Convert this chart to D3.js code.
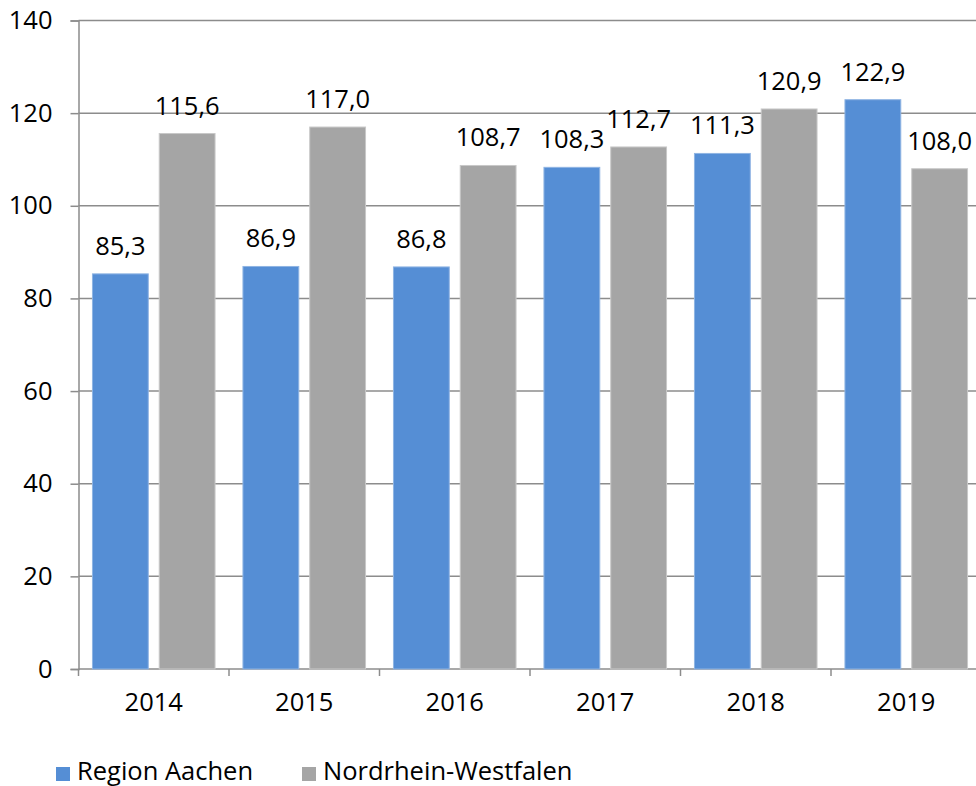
<!DOCTYPE html>
<html>
<head>
<meta charset="utf-8">
<script src="https://cdn.jsdelivr.net/npm/d3@7"></script>
<style>
  html, body { margin: 0; padding: 0; background: #fff; }
  svg { display: block; font-family: "Open Sans", "Noto Sans", sans-serif; }
</style>
</head>
<body>
<svg id="chart" width="976" height="786"></svg>
<script>
const years = ["2014", "2015", "2016", "2017", "2018", "2019"];
const seriesNames = ["Region Aachen", "Nordrhein-Westfalen"];
const aachen = [85.3, 86.9, 86.8, 108.3, 111.3, 122.9];
const nrw = [115.6, 117.0, 108.7, 112.7, 120.9, 108.0];
const yTicks = [0, 20, 40, 60, 80, 100, 120, 140];
const colors = ["#558ed5", "#a5a5a5"];

const fontSize = 25.5;
const svg = d3.select("#chart");
const plotLeft = 78.5, plotTop = 20.5, plotBottom = 669;
const catWidth = 150.5;
const plotRight = plotLeft + catWidth * years.length;

const x = d3.scaleBand().domain(years).range([plotLeft, plotRight]).paddingInner(0).paddingOuter(0);
const xs = d3.scaleBand().domain(seriesNames).range([0, catWidth]).paddingInner(0.164).paddingOuter(0.209);
const y = d3.scaleLinear().domain([0, 140]).range([plotBottom, plotTop]);

const fmt = v => d3.format(".1f")(v).replace(".", ",");

// horizontal grid lines
svg.append("g")
  .selectAll("line")
  .data(yTicks.filter(t => t > 0))
  .join("line")
  .attr("x1", plotLeft).attr("x2", 976)
  .attr("y1", d => y(d)).attr("y2", d => y(d))
  .attr("stroke", "#8c8c8c").attr("stroke-width", 1.5);

// y axis
const yAxis = d3.axisLeft(y).tickValues(yTicks).tickSize(8).tickPadding(18).tickFormat(d3.format("d"));
const yg = svg.append("g").attr("transform", `translate(${plotLeft},0)`).call(yAxis);
yg.select(".domain").attr("stroke", "#8c8c8c").attr("stroke-width", 1.5);
yg.selectAll(".tick line").attr("stroke", "#8c8c8c").attr("stroke-width", 1.5);
yg.selectAll(".tick text").attr("font-size", fontSize).attr("fill", "#000")
  .attr("font-family", "'Open Sans', 'Noto Sans', sans-serif");

// x axis
const xBoundaries = d3.range(years.length + 1).map(i => plotLeft + i * catWidth);
svg.append("line")
  .attr("x1", plotLeft).attr("x2", 976).attr("y1", plotBottom).attr("y2", plotBottom)
  .attr("stroke", "#8c8c8c").attr("stroke-width", 1.5);
svg.append("g").selectAll("line")
  .data(xBoundaries)
  .join("line")
  .attr("x1", d => d).attr("x2", d => d)
  .attr("y1", plotBottom).attr("y2", plotBottom + 7)
  .attr("stroke", "#8c8c8c").attr("stroke-width", 1.5);
svg.append("g").selectAll("text")
  .data(years)
  .join("text")
  .attr("x", d => x(d) + catWidth / 2)
  .attr("y", 711)
  .attr("text-anchor", "middle")
  .attr("font-size", fontSize)
  .attr("fill", "#000")
  .text(d => d);

// bars
const rows = years.map((yr, i) => ({ year: yr, values: [aachen[i], nrw[i]] }));
const groups = svg.append("g").selectAll("g")
  .data(rows)
  .join("g")
  .attr("transform", d => `translate(${x(d.year)},0)`);

groups.selectAll("rect")
  .data(d => d.values.map((v, j) => ({ name: seriesNames[j], value: v, j })))
  .join("rect")
  .attr("x", d => xs(d.name))
  .attr("width", xs.bandwidth())
  .attr("y", d => y(d.value))
  .attr("height", d => y(0) - y(d.value))
  .attr("fill", d => colors[d.j])
  .attr("stroke", d => d.j === 0 ? "#8fb4e3" : "#c8c8c8")
  .attr("stroke-width", 1);

groups.selectAll("text")
  .data(d => d.values.map((v, j) => ({ name: seriesNames[j], value: v, j })))
  .join("text")
  .attr("x", d => xs(d.name) + xs.bandwidth() / 2)
  .attr("y", d => y(d.value) - 19)
  .attr("text-anchor", "middle")
  .attr("font-size", fontSize)
  .attr("fill", "#000")
  .text(d => fmt(d.value));

// legend
const legendX = [56, 302];
const legend = svg.append("g").selectAll("g")
  .data(seriesNames)
  .join("g")
  .attr("transform", (d, i) => `translate(${legendX[i]},767)`);
legend.append("rect")
  .attr("width", 14).attr("height", 14)
  .attr("fill", (d, i) => colors[i]);
legend.append("text")
  .attr("x", 21).attr("y", 13)
  .attr("font-size", fontSize)
  .attr("fill", "#000")
  .text(d => d);
</script>
</body>
</html>
